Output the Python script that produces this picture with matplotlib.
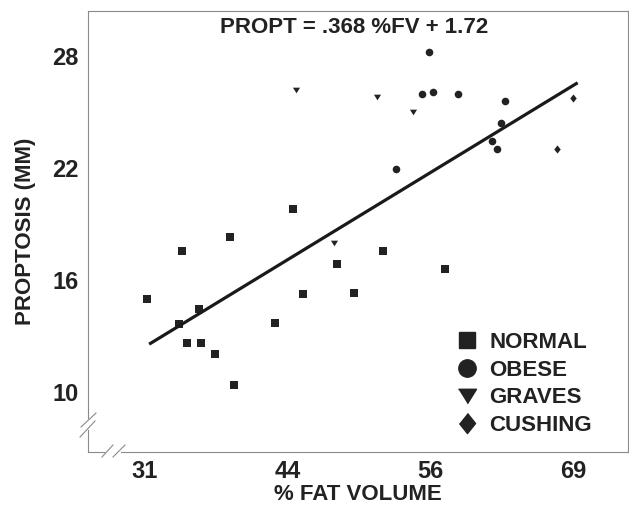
import matplotlib
matplotlib.use("Agg")
import matplotlib.pyplot as plt
from matplotlib.lines import Line2D
import numpy as np

plt.rcParams['font.family'] = ['Liberation Sans', 'DejaVu Sans']
plt.rcParams['font.weight'] = 'bold'
plt.rcParams['axes.labelweight'] = 'bold'

# datos
normal_x = [44.44, 38.87, 34.62, 48.39, 52.48, 57.94, 31.51, 45.33,
            49.87, 36.14, 34.33, 42.90, 35.09, 36.29, 37.56, 39.25]
normal_y = [20.61, 19.14, 18.35, 17.69, 18.35, 17.42, 15.81, 16.10,
            16.12, 15.29, 14.49, 14.52, 13.43, 13.47, 12.86, 11.20]

obese_x = [56.51, 55.95, 56.90, 59.12, 63.28, 62.98, 62.12, 62.57, 53.58]
obese_y = [29.05, 26.80, 26.89, 26.76, 26.39, 25.22, 24.26, 23.85, 22.79]

graves_x = [44.77, 51.95, 55.09, 48.09]
graves_y = [26.98, 26.64, 25.83, 18.80]

cushing_x = [69.33, 67.91]
cushing_y = [26.58, 23.85]

# recta de regresion
slope = 0.368
intercept = 1.72
fit_x = [31.7, 69.75]

# ejes (ticks equiespaciados, etiquetas truncadas)
x_ticks = [31.33, 44.0, 56.67, 69.33]
x_labels = ['31', '44', '56', '69']
y_ticks = [10.82, 16.82, 22.82, 28.82]
y_labels = ['10', '16', '22', '28']

ink = '#222222'
grey = '#8a8a8a'

tri = [(-1, 0.8), (1, 0.8), (0, -0.8)]
dia = [(0, 1), (0.8, 0), (0, -1), (-0.8, 0)]

fig = plt.figure(figsize=(6.29, 5.08), dpi=100)
ax = fig.add_axes([0.1399, 0.1102, 0.8585, 0.8681])

ax.scatter(normal_x, normal_y, marker='s', s=27, color=ink, linewidths=0)
ax.scatter(obese_x, obese_y, marker='o', s=30, color=ink, linewidths=0)
ax.scatter(graves_x, graves_y, marker=tri, s=26, color=ink, linewidths=0)
ax.scatter(cushing_x, cushing_y, marker=dia, s=34, color=ink, linewidths=0)

fx = np.array(fit_x)
ax.plot(fx, slope * fx + intercept, color='#1a1a1a', lw=2.3, solid_capstyle='butt')

ax.set_xlim(26.27, 74.22)
ax.set_ylim(7.61, 31.23)
ax.set_xticks(x_ticks)
ax.set_xticklabels(x_labels)
ax.set_yticks(y_ticks)
ax.set_yticklabels(y_labels)
ax.tick_params(axis='x', length=0, pad=6, labelsize=17, labelcolor=ink)
ax.tick_params(axis='y', length=0, pad=6.5, labelsize=17, labelcolor=ink)

ax.set_xlabel('% FAT VOLUME', fontsize=16, fontweight='bold', color=ink)
ax.set_ylabel('PROPTOSIS (MM)', fontsize=16, fontweight='bold', color=ink)
ax.xaxis.set_label_coords(0.5, -0.072)
ax.yaxis.set_label_coords(-0.097, 0.5)

ax.text(0.4926, 0.9637, 'PROPT = .368 %FV + 1.72', transform=ax.transAxes,
        ha='center', va='center', fontsize=16, color=ink)

# marco con cortes //
for side in ['left', 'bottom']:
    ax.spines[side].set_visible(False)
for side in ['top', 'right']:
    ax.spines[side].set_color(grey)
    ax.spines[side].set_linewidth(0.8)

kw = dict(transform=ax.transAxes, clip_on=False, color=grey, lw=0.8)
ax.plot([0, 0], [0, 0.050], **kw)
ax.plot([0, 0], [0.077, 1], **kw)
ax.plot([0, 0.0296], [0, 0], **kw)
ax.plot([0.0611, 1], [0, 0], **kw)
ax.plot([-0.0130, 0.0148], [0.0567, 0.0884], **kw)
ax.plot([-0.0148, 0.0130], [0.0340, 0.0703], **kw)
ax.plot([0.0259, 0.0463], [-0.0113, 0.0159], **kw)
ax.plot([0.0463, 0.0685], [-0.0113, 0.0159], **kw)

handles = [
    Line2D([], [], ls='none', marker='s', ms=12, color=ink),
    Line2D([], [], ls='none', marker='o', ms=12.5, color=ink),
    Line2D([], [], ls='none', marker=tri, ms=13, color=ink),
    Line2D([], [], ls='none', marker=dia, ms=14.5, color=ink),
]
labels = ['NORMAL', 'OBESE', 'GRAVES', 'CUSHING']
ax.legend(handles, labels, loc='upper left', bbox_to_anchor=(0.6854, 0.272),
          frameon=False, fontsize=16, handlelength=0.8, handletextpad=0.6,
          labelspacing=0.3, borderpad=0, borderaxespad=0, labelcolor=ink)

fig.savefig('out.png', dpi=100)
